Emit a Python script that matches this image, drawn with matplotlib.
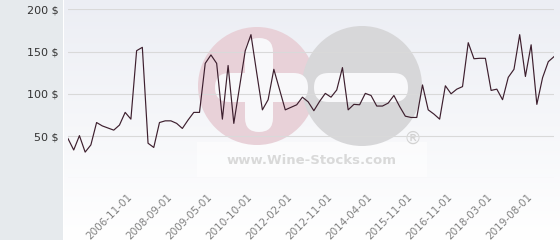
import matplotlib
matplotlib.use("Agg")
import matplotlib.pyplot as plt
import matplotlib.colors as mcolors
import numpy as np
from matplotlib.patches import Circle, FancyBboxPatch, Rectangle

# ---- data ----
prices = [47, 33.5, 50.5, 31, 39.5, 66, 62, 59.5, 57, 63, 78, 70,
          151, 155, 41.5, 36.5, 66, 68, 68, 65, 59, 69, 78, 78,
          136, 146, 136, 70, 133.5, 65, 108, 151, 170, 125, 81, 93,
          129, 105, 81, 84, 87, 96, 90.5, 80, 91, 100.5, 96, 104.5,
          131, 81, 87.5, 87, 100.5, 98, 85.5, 85.5, 89, 98, 85, 73.5,
          72, 72, 110.5, 81, 76, 70, 109.5, 100, 105.5, 108.5, 160.5, 141.5,
          142, 142, 104, 105.5, 93, 119.5, 129, 170, 120.5, 158, 87.5, 119,
          138, 144]
tick_idx = [11, 18, 25, 32, 39, 46, 53, 60, 67, 74, 81]
tick_labels = ["2006-11-01", "2008-09-01", "2009-05-01", "2010-10-01",
               "2012-02-01", "2012-11-01", "2014-04-01", "2015-11-01",
               "2016-11-01", "2018-03-01", "2019-08-01"]
y_ticks = [0, 50, 100, 150, 200]
y_labels = ["", "50 $", "100 $", "150 $", "200 $"]

W, H = 560, 240
fig = plt.figure(figsize=(W / 100, H / 100), dpi=100)

# ---- background layer in pixel coordinates ----
bg = fig.add_axes([0, 0, 1, 1])
bg.axis("off")
top = np.array(mcolors.to_rgb("#eceef4"))
bot = np.array([1.0, 1.0, 1.0])
g = np.linspace(0, 1, 256)[:, None, None]
img = top + (bot - top) * g
bg.imshow(img, extent=[64, W, H, 0], aspect="auto", interpolation="bilinear")
bg.add_patch(Rectangle((0, 0), 62.5, H, color="#e6eaed", lw=0))
bg.add_patch(Rectangle((62.5, 0), 1.5, H, color="#ffffff", lw=0))

# watermark
bg.add_patch(Rectangle((197, 142), 230, 35, color="white", alpha=0.55, lw=0))
bg.add_patch(Circle((257, 86), 59, color="#e8d1d8", lw=0))
bg.add_patch(Circle((362, 86), 60, color="#d7d7d9", lw=0))
def bar(x0, y0, w, h):
    r = min(w, h) / 2
    bg.add_patch(FancyBboxPatch((x0, y0), w, h,
                                boxstyle=f"round,pad=0,rounding_size={r}",
                                color="#f8f8fa", lw=0))
bar(215, 73, 93, 29)
bar(245, 38, 28, 94)
bar(314, 73, 94, 29)
bg.text(312, 161, "www.Wine-Stocks.com", ha="center", va="center",
        fontsize=9.5, fontweight="bold", color="#d9d9d9")
bg.text(413, 139, "\u00ae", ha="center", va="center", fontsize=13,
        color="#d2d2d2")
bg.set_xlim(0, W)
bg.set_ylim(H, 0)

# ---- chart axes ----
ax = fig.add_axes([68 / W, (H - 178.3) / H, (554 - 68) / W, 169 / H])
ax.patch.set_alpha(0)
x = np.arange(len(prices))
ax.plot(x, prices, color="#3d1f2e", lw=0.85, zorder=3)
ax.set_xlim(0, len(prices) - 1)
ax.set_ylim(0, 200)
ax.set_yticks(y_ticks)
ax.set_yticklabels(y_labels, fontsize=8, color="#333333")
ax.set_xticks(tick_idx)
ax.set_xticklabels(tick_labels, rotation=45, ha="right", va="center",
                   rotation_mode="anchor", fontsize=7.5, color="#808080")
ax.tick_params(axis="x", length=0, pad=12)
ax.tick_params(axis="y", length=0, pad=6.5)
for v in y_ticks:
    ax.axhline(v, color="#d9d9d9", lw=0.8, zorder=1)
for s in ax.spines.values():
    s.set_visible(False)

fig.savefig("out.png", dpi=100)
